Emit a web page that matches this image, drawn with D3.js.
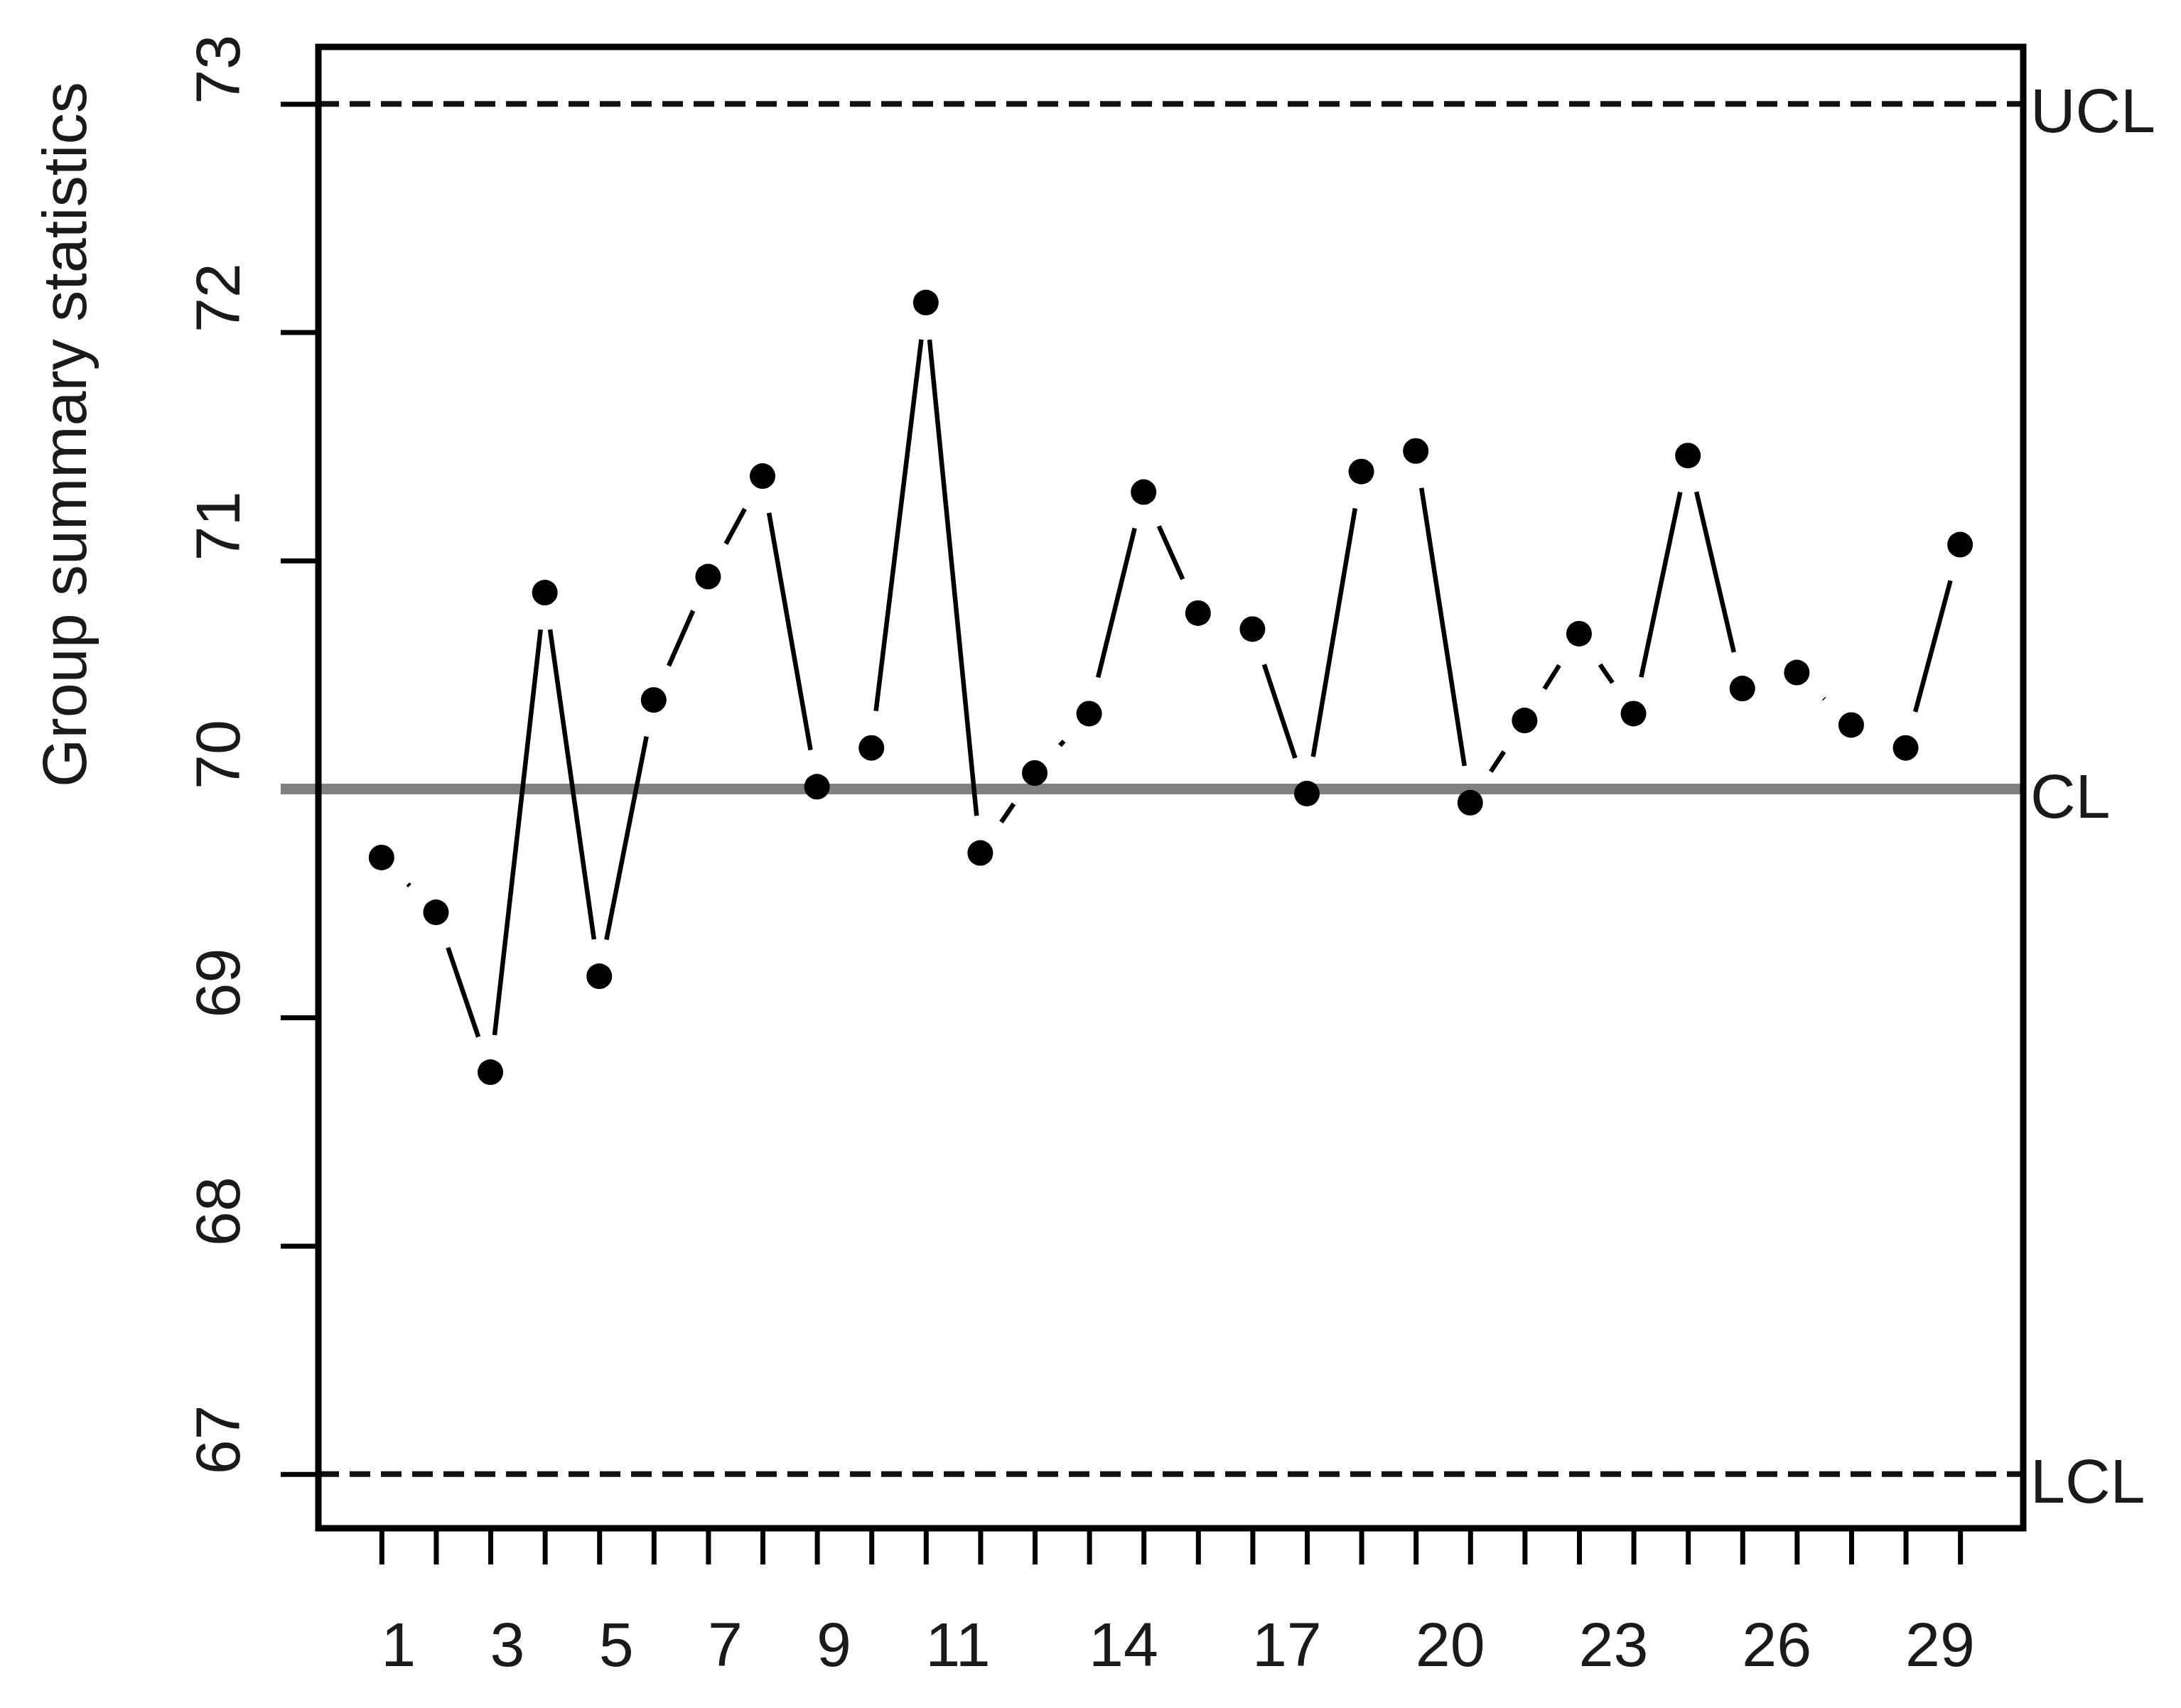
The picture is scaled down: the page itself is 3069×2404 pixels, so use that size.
<!DOCTYPE html>
<html>
<head>
<meta charset="utf-8">
<script src="https://cdn.jsdelivr.net/npm/d3@7"></script>
<style>
  html, body { margin: 0; padding: 0; background: #ffffff; }
  svg { display: block; }
  text { font-family: "Liberation Sans", Arial, sans-serif; }
</style>
</head>
<body>
<script>
// ---------- data ----------
const groups = d3.range(1, 31);
const groupStats = [69.70, 69.46, 68.76, 70.86, 69.18, 70.39, 70.93, 71.37, 70.01, 70.18,
                    72.13, 69.72, 70.07, 70.33, 71.30, 70.77, 70.70, 69.98, 71.39, 71.48,
                    69.94, 70.30, 70.68, 70.33, 71.46, 70.44, 70.51, 70.28, 70.18, 71.07];
const xTickLabels = [1, 3, 5, 7, 9, 11, 14, 17, 20, 23, 26, 29];
const yTicks = [67, 68, 69, 70, 71, 72, 73];
const limits = [
  { name: "UCL", value: 73 },
  { name: "CL",  value: 70 },
  { name: "LCL", value: 67 }
];
const yTitle = "Group summary statistics";

// ---------- layout ----------
const W = 3069, H = 2404;
const box = { left: 448, right: 2847, top: 66, bottom: 2151 };
const fontSize = 88;
const textColor = "#1a1a1a";

const svg = d3.select("body").append("svg")
  .attr("width", W).attr("height", H)
  .attr("viewBox", `0 0 ${W} ${H}`);
svg.append("rect").attr("width", W).attr("height", H).attr("fill", "#fff");

const x = d3.scaleLinear().domain([1 - 1.16, 30 + 1.16]).range([box.left, box.right]);
const y = d3.scaleLinear().domain([66.76, 73.24]).range([2152, 69]);

// ---------- axes ----------
const xAxis = svg.append("g")
  .attr("transform", `translate(0,${box.bottom})`)
  .call(d3.axisBottom(x)
    .tickValues(groups)
    .tickSize(51)
    .tickSizeOuter(0)
    .tickFormat(d => xTickLabels.includes(d) ? String(d) : ""));
xAxis.select(".domain").remove();
xAxis.selectAll(".tick line").attr("stroke", "#000").attr("stroke-width", 7);
xAxis.selectAll(".tick text")
  .attr("fill", textColor)
  .attr("font-size", fontSize)
  .attr("text-anchor", "start")
  .attr("x", -1)
  .attr("y", 2345 - box.bottom)
  .attr("dy", null);

const yAxis = svg.append("g")
  .attr("transform", `translate(${box.left},0)`)
  .call(d3.axisLeft(y)
    .tickValues(yTicks)
    .tickSize(53)
    .tickSizeOuter(0)
    .tickFormat(d3.format("d")));
yAxis.select(".domain").remove();
yAxis.selectAll(".tick line").attr("stroke", "#000").attr("stroke-width", 7);
yAxis.selectAll(".tick text")
  .attr("fill", textColor)
  .attr("font-size", fontSize)
  .attr("text-anchor", "start")
  .attr("x", null)
  .attr("dy", null)
  .attr("transform", `translate(${337 - box.left},0) rotate(-90)`);

// ---------- control limit lines ----------
limits.forEach(l => {
  const ly = y(l.value);
  const isCL = l.name === "CL";
  svg.append("line")
    .attr("x1", isCL ? box.left - 53 : box.left)
    .attr("x2", box.right)
    .attr("y1", ly).attr("y2", ly)
    .attr("stroke", isCL ? "#808080" : "#111")
    .attr("stroke-width", isCL ? 15 : 8)
    .attr("stroke-dasharray", isCL ? null : "29,15");
  svg.append("text")
    .attr("x", box.right + 10)
    .attr("y", ly + 40)
    .attr("fill", textColor)
    .attr("font-size", fontSize)
    .text(l.name);
});

// ---------- series (type "b": points with gapped lines) ----------
const pts = groupStats.map((v, i) => [x(groups[i]), y(v)]);
const gap = 52.5;
const segs = [];
for (let i = 0; i < pts.length - 1; i++) {
  const [x1, y1] = pts[i], [x2, y2] = pts[i + 1];
  const dx = x2 - x1, dy = y2 - y1, len = Math.hypot(dx, dy);
  if (len > 2 * gap) {
    const ux = dx / len, uy = dy / len;
    segs.push([x1 + ux * gap, y1 + uy * gap, x2 - ux * gap, y2 - uy * gap]);
  }
}
svg.append("g").selectAll("line").data(segs).join("line")
  .attr("x1", d => d[0]).attr("y1", d => d[1])
  .attr("x2", d => d[2]).attr("y2", d => d[3])
  .attr("stroke", "#000").attr("stroke-width", 6.5);

svg.append("g").selectAll("circle").data(groupStats).join("circle")
  .attr("cx", (d, i) => x(groups[i]))
  .attr("cy", d => y(d))
  .attr("r", 18)
  .attr("fill", "#000");

// ---------- frame ----------
svg.append("rect")
  .attr("x", box.left).attr("y", box.top)
  .attr("width", box.right - box.left).attr("height", box.bottom - box.top)
  .attr("fill", "none").attr("stroke", "#000").attr("stroke-width", 9);

// ---------- y title ----------
svg.append("text")
  .attr("transform", `translate(121,1108) rotate(-90)`)
  .attr("text-anchor", "start")
  .attr("fill", textColor)
  .attr("font-size", fontSize)
  .text(yTitle);
</script>
</body>
</html>
